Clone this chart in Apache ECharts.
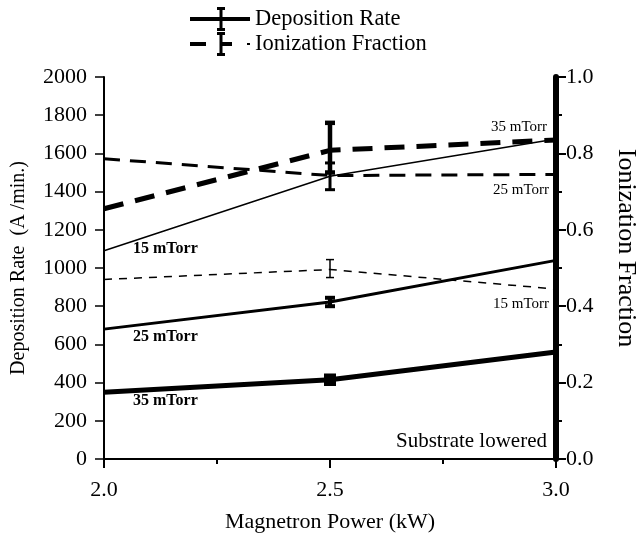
<!DOCTYPE html>
<html>
<head>
<meta charset="utf-8">
<script src="https://cdn.jsdelivr.net/npm/echarts@6/dist/echarts.min.js"></script>
<style>
  html, body { margin: 0; padding: 0; background: #fff; }
  #chart { width: 636px; height: 538px; }
</style>
</head>
<body>
<div id="chart"></div>
<script>
// magnetron power (kW)
var power = [2.0, 2.5, 3.0]

// deposition rate (A/min), left axis
var dep15 = [1090, 1480, 1675]
var dep25 = [680, 822, 1040]
var dep35 = [350, 415, 560]

// ionization fraction, right axis
var ion15 = [0.47, 0.496, 0.445]
var ion25 = [0.786, 0.742, 0.745]
var ion35 = [0.655, 0.808, 0.835]

// error bars: [power, low, high]
var dep15Err = [[2.5, 1410, 1550]]
var dep25Err = [[2.5, 800, 844]]
var dep35Err = [[2.5, 398, 432]]
var ion15Err = [[2.5, 0.475, 0.522]]
var ion35Err = [[2.5, 0.75, 0.88]]

var FONT = 'Liberation Serif'

function pairs (ys) {
  return power.map(function (x, i) { return [x, ys[i]] })
}

function lineSeries (name, ys, yAxisIndex, width, dash) {
  return {
    name: name,
    type: 'line',
    yAxisIndex: yAxisIndex,
    data: pairs(ys),
    symbol: 'none',
    silent: true,
    itemStyle: { color: '#000' },
    lineStyle: { color: '#000', width: width, type: dash || 'solid', cap: 'butt' }
  }
}

function errSeries (data, yAxisIndex, width, cap) {
  return {
    name: 'err',
    type: 'custom',
    yAxisIndex: yAxisIndex,
    data: data,
    silent: true,
    z: 5,
    encode: { x: 0, y: [1, 2] },
    renderItem: function (params, api) {
      var lo = api.coord([api.value(0), api.value(1)])
      var hi = api.coord([api.value(0), api.value(2)])
      var style = { stroke: '#000', lineWidth: width }
      return {
        type: 'group',
        children: [
          { type: 'line', shape: { x1: hi[0], y1: hi[1], x2: lo[0], y2: lo[1] }, style: style },
          { type: 'line', shape: { x1: hi[0] - cap, y1: hi[1], x2: hi[0] + cap, y2: hi[1] }, style: style },
          { type: 'line', shape: { x1: lo[0] - cap, y1: lo[1], x2: lo[0] + cap, y2: lo[1] }, style: style }
        ]
      }
    }
  }
}

var solidIcon = 'path://M0,10H60V14H0Z M27,0H35V3H32.5V21H35V24H27V21H29.5V3H27Z'
var dashIcon = 'path://M0,10H16V14H0Z M27,0H35V3H32.5V10H42V14H32.5V21H35V24H27V21H29.5V3H27Z M57,11H60V13H57Z'

var option = {
  animation: false,
  backgroundColor: '#fff',
  textStyle: { fontFamily: FONT, color: '#000' },
  legend: {
    orient: 'vertical',
    left: 190,
    top: 7,
    padding: 0,
    itemWidth: 60,
    itemHeight: 24,
    itemGap: 1,
    selectedMode: false,
    textStyle: { fontFamily: FONT, fontSize: 22.5, color: '#000' },
    data: [
      { name: 'Deposition Rate', icon: solidIcon, itemStyle: { color: '#000', borderWidth: 0 } },
      { name: 'Ionization Fraction', icon: dashIcon, itemStyle: { color: '#000', borderWidth: 0 } }
    ]
  },
  grid: { left: 104, right: 80, top: 77, bottom: 79, outerBoundsMode: 'none' },
  xAxis: {
    type: 'value',
    min: 2,
    max: 3,
    interval: 0.5,
    name: 'Magnetron Power (kW)',
    nameLocation: 'middle',
    nameGap: 52,
    nameTextStyle: { fontFamily: FONT, fontSize: 22, color: '#000' },
    axisLine: { onZero: false, lineStyle: { color: '#000', width: 2 } },
    axisTick: { length: 9, lineStyle: { width: 2 } },
    minorTick: { show: true, splitNumber: 2, length: 5, lineStyle: { color: '#000', width: 2 } },
    splitLine: { show: false },
    axisLabel: {
      margin: 20,
      fontFamily: FONT,
      fontSize: 22,
      color: '#000',
      formatter: function (v) { return v.toFixed(1) }
    }
  },
  yAxis: [
    {
      type: 'value',
      min: 0,
      max: 2000,
      interval: 200,
      name: 'Deposition Rate  (A /min.)',
      nameLocation: 'middle',
      nameGap: 75,
      nameTextStyle: { fontFamily: FONT, fontSize: 20, color: '#000' },
      axisLine: { show: true, lineStyle: { color: '#000', width: 2 } },
      axisTick: { show: true, length: 9, lineStyle: { width: 1.5 } },
      splitLine: { show: false },
      axisLabel: {
        margin: 17,
        fontFamily: FONT,
        fontSize: 22,
        color: '#000',
        formatter: function (v) { return String(v) }
      }
    },
    {
      type: 'value',
      position: 'right',
      min: 0,
      max: 1,
      interval: 0.2,
      name: 'Ionization Fraction',
      nameLocation: 'middle',
      nameRotate: -90,
      nameGap: 57,
      nameTextStyle: { fontFamily: FONT, fontSize: 26, color: '#000', padding: [0, 40, 0, 0] },
      axisLine: { show: true, lineStyle: { color: '#000', width: 6 } },
      axisTick: { show: true, length: 10, lineStyle: { width: 2 } },
      minorTick: { show: true, splitNumber: 2, length: 6, lineStyle: { color: '#000', width: 2 } },
      splitLine: { show: false },
      axisLabel: {
        margin: 10,
        fontFamily: FONT,
        fontSize: 22,
        color: '#000',
        formatter: function (v) { return v.toFixed(1) }
      }
    }
  ],
  series: [
    lineSeries('Deposition Rate', dep15, 0, 1.5),
    lineSeries('Deposition Rate', dep25, 0, 3),
    lineSeries('Deposition Rate', dep35, 0, 5),
    lineSeries('Ionization Fraction', ion15, 1, 1.5, [8, 7]),
    lineSeries('Ionization Fraction', ion25, 1, 3, [16, 10]),
    lineSeries('Ionization Fraction', ion35, 1, 5, [20, 12]),
    errSeries(dep15Err, 0, 3, 5),
    errSeries(dep25Err, 0, 4, 5),
    errSeries(dep35Err, 0, 6, 6),
    errSeries(ion15Err, 1, 1.5, 4),
    errSeries(ion35Err, 1, 4.5, 5)
  ],
  graphic: [
    { type: 'text', left: 133, top: 241, style: { text: '15 mTorr', font: 'bold 16px "Liberation Serif"', fill: '#000' } },
    { type: 'text', left: 133, top: 329, style: { text: '25 mTorr', font: 'bold 16px "Liberation Serif"', fill: '#000' } },
    { type: 'text', left: 133, top: 393, style: { text: '35 mTorr', font: 'bold 16px "Liberation Serif"', fill: '#000' } },
    { type: 'text', right: 89, top: 120, style: { text: '35 mTorr', font: '15px "Liberation Serif"', fill: '#000' } },
    { type: 'text', right: 87, top: 183, style: { text: '25 mTorr', font: '15px "Liberation Serif"', fill: '#000' } },
    { type: 'text', right: 87, top: 297, style: { text: '15 mTorr', font: '15px "Liberation Serif"', fill: '#000' } },
    { type: 'text', right: 89, top: 431, style: { text: 'Substrate lowered', font: '21px "Liberation Serif"', fill: '#000' } }
  ]
}

var chart = echarts.init(document.getElementById('chart'), null, { renderer: 'canvas' })
chart.setOption(option)
</script>
</body>
</html>
